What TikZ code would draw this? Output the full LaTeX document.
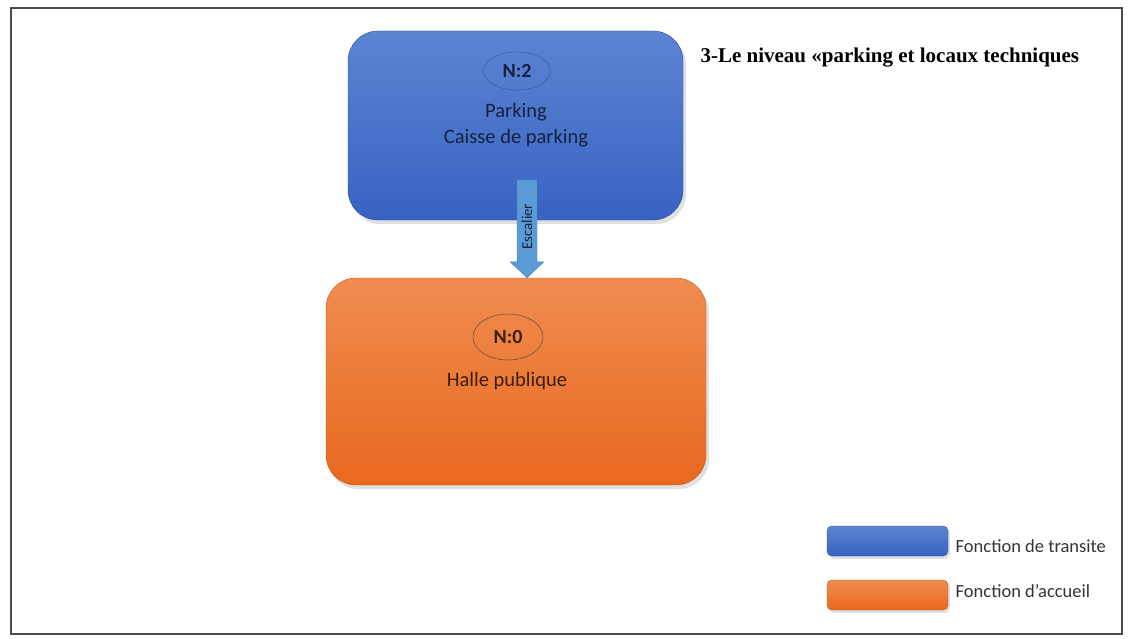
\documentclass[tikz,border=0pt]{standalone}
\usepackage{fontspec}
\setmainfont{Carlito}
\newfontfamily\titlefont{Liberation Serif}
\usetikzlibrary{shapes.geometric,calc}
\definecolor{blueTop}{HTML}{5D84D2}
\definecolor{blueBot}{HTML}{3762C2}
\definecolor{orTop}{HTML}{F08C50}
\definecolor{orBot}{HTML}{E8691E}
\definecolor{stairBlue}{HTML}{5B9BD5}
\definecolor{navyText}{HTML}{14213F}
\definecolor{brownText}{HTML}{3A1E0E}
\tikzset{
  levelbox/.style={rounded corners=30pt, minimum width=#1, inner sep=0pt},
  bluefill/.style={top color=blueTop, bottom color=blueBot, draw=blueBot!80!black, line width=0.4pt},
  orangefill/.style={top color=orTop, bottom color=orBot, draw=orBot!85!black, line width=0.4pt},
  levelmark/.style={ellipse, minimum width=#1, inner sep=0pt, font=\bfseries\fontsize{20}{22}\selectfont},
  boxtext/.style={font=\fontsize{20.5}{26}\selectfont, align=center},
  legendbox/.style={rounded corners=5pt, minimum width=121pt, minimum height=30pt, inner sep=0pt},
  legendtext/.style={anchor=west, font=\fontsize{18.5}{22}\selectfont, text=black!80},
  shadowbox/.style={fill=black, opacity=0.12, draw=none}
}
\begin{document}
\begin{tikzpicture}[x=1pt, y=-1pt]
  % page and frame
  \fill[white] (0,0) rectangle (1129,639);
  \useasboundingbox (0,0) rectangle (1129,639);
  \draw[black!70, line width=1.5pt] (11,8) rectangle (1122,634);

  % soft shadows under the boxes
  \fill[shadowbox, rounded corners=30pt] (350,35) rectangle (686,224);
  \fill[shadowbox, rounded corners=30pt] (328,282) rectangle (709,489);

  % level N:2
  \node[levelbox=335pt, minimum height=189pt, bluefill] (park) at (515.5,125.5) {};
  \node[levelmark=67pt, minimum height=38pt, draw=blueBot!80!black, line width=0.3pt, text=navyText] (n2) at (517,71) {N:2};
  \node[boxtext, text=navyText] (parktxt) at (516,125) {Parking\\Caisse de parking};

  % level N:0
  \node[levelbox=380pt, minimum height=207pt, orangefill] (halle) at (516,381.5) {};
  \node[levelmark=70pt, minimum height=46pt, draw=brownText!80, line width=0.5pt, text=brownText] (n0) at (508,337) {N:0};
  \node[boxtext, text=brownText] (halletxt) at (507,381) {Halle publique};

  % staircase link between the levels
  \coordinate (esc) at (527,180);
  \coordinate (tip) at (esc |- halle.north);
  \fill[stairBlue, draw=stairBlue!80!black, line width=0.3pt]
    ($(esc)+(-10,0)$) -- ($(esc)+(10,0)$) -- ($(tip)+(10,-16)$) -- ($(tip)+(17,-16)$)
    -- (tip) -- ($(tip)+(-17,-16)$) -- ($(tip)+(-10,-16)$) -- cycle;
  \node[rotate=90, font=\fontsize{15}{17}\selectfont, text=navyText] (esctxt)
    at ($(esc)!0.5!(tip)+(0,-2)$) {Escalier};

  % heading
  \node[anchor=base west, font=\titlefont\bfseries\fontsize{21}{24}\selectfont] (title)
    at (697,63) {3-Le niveau «parking et locaux techniques};

  % legend
  \fill[shadowbox, rounded corners=5pt] (829,528) rectangle (950,559);
  \fill[shadowbox, rounded corners=5pt] (829,582) rectangle (950,613);
  \node[legendbox, bluefill] (lgblue) at (887.5,541) {};
  \node[legendbox, orangefill] (lgorange) at (887.5,595) {};
  \node[legendtext] (lgbluetxt) at ($(lgblue.east)+(4,5)$) {Fonction de transite};
  \node[legendtext] (lgorangetxt) at ($(lgorange.east)+(4,-4)$) {Fonction d’accueil};
\end{tikzpicture}
\end{document}
